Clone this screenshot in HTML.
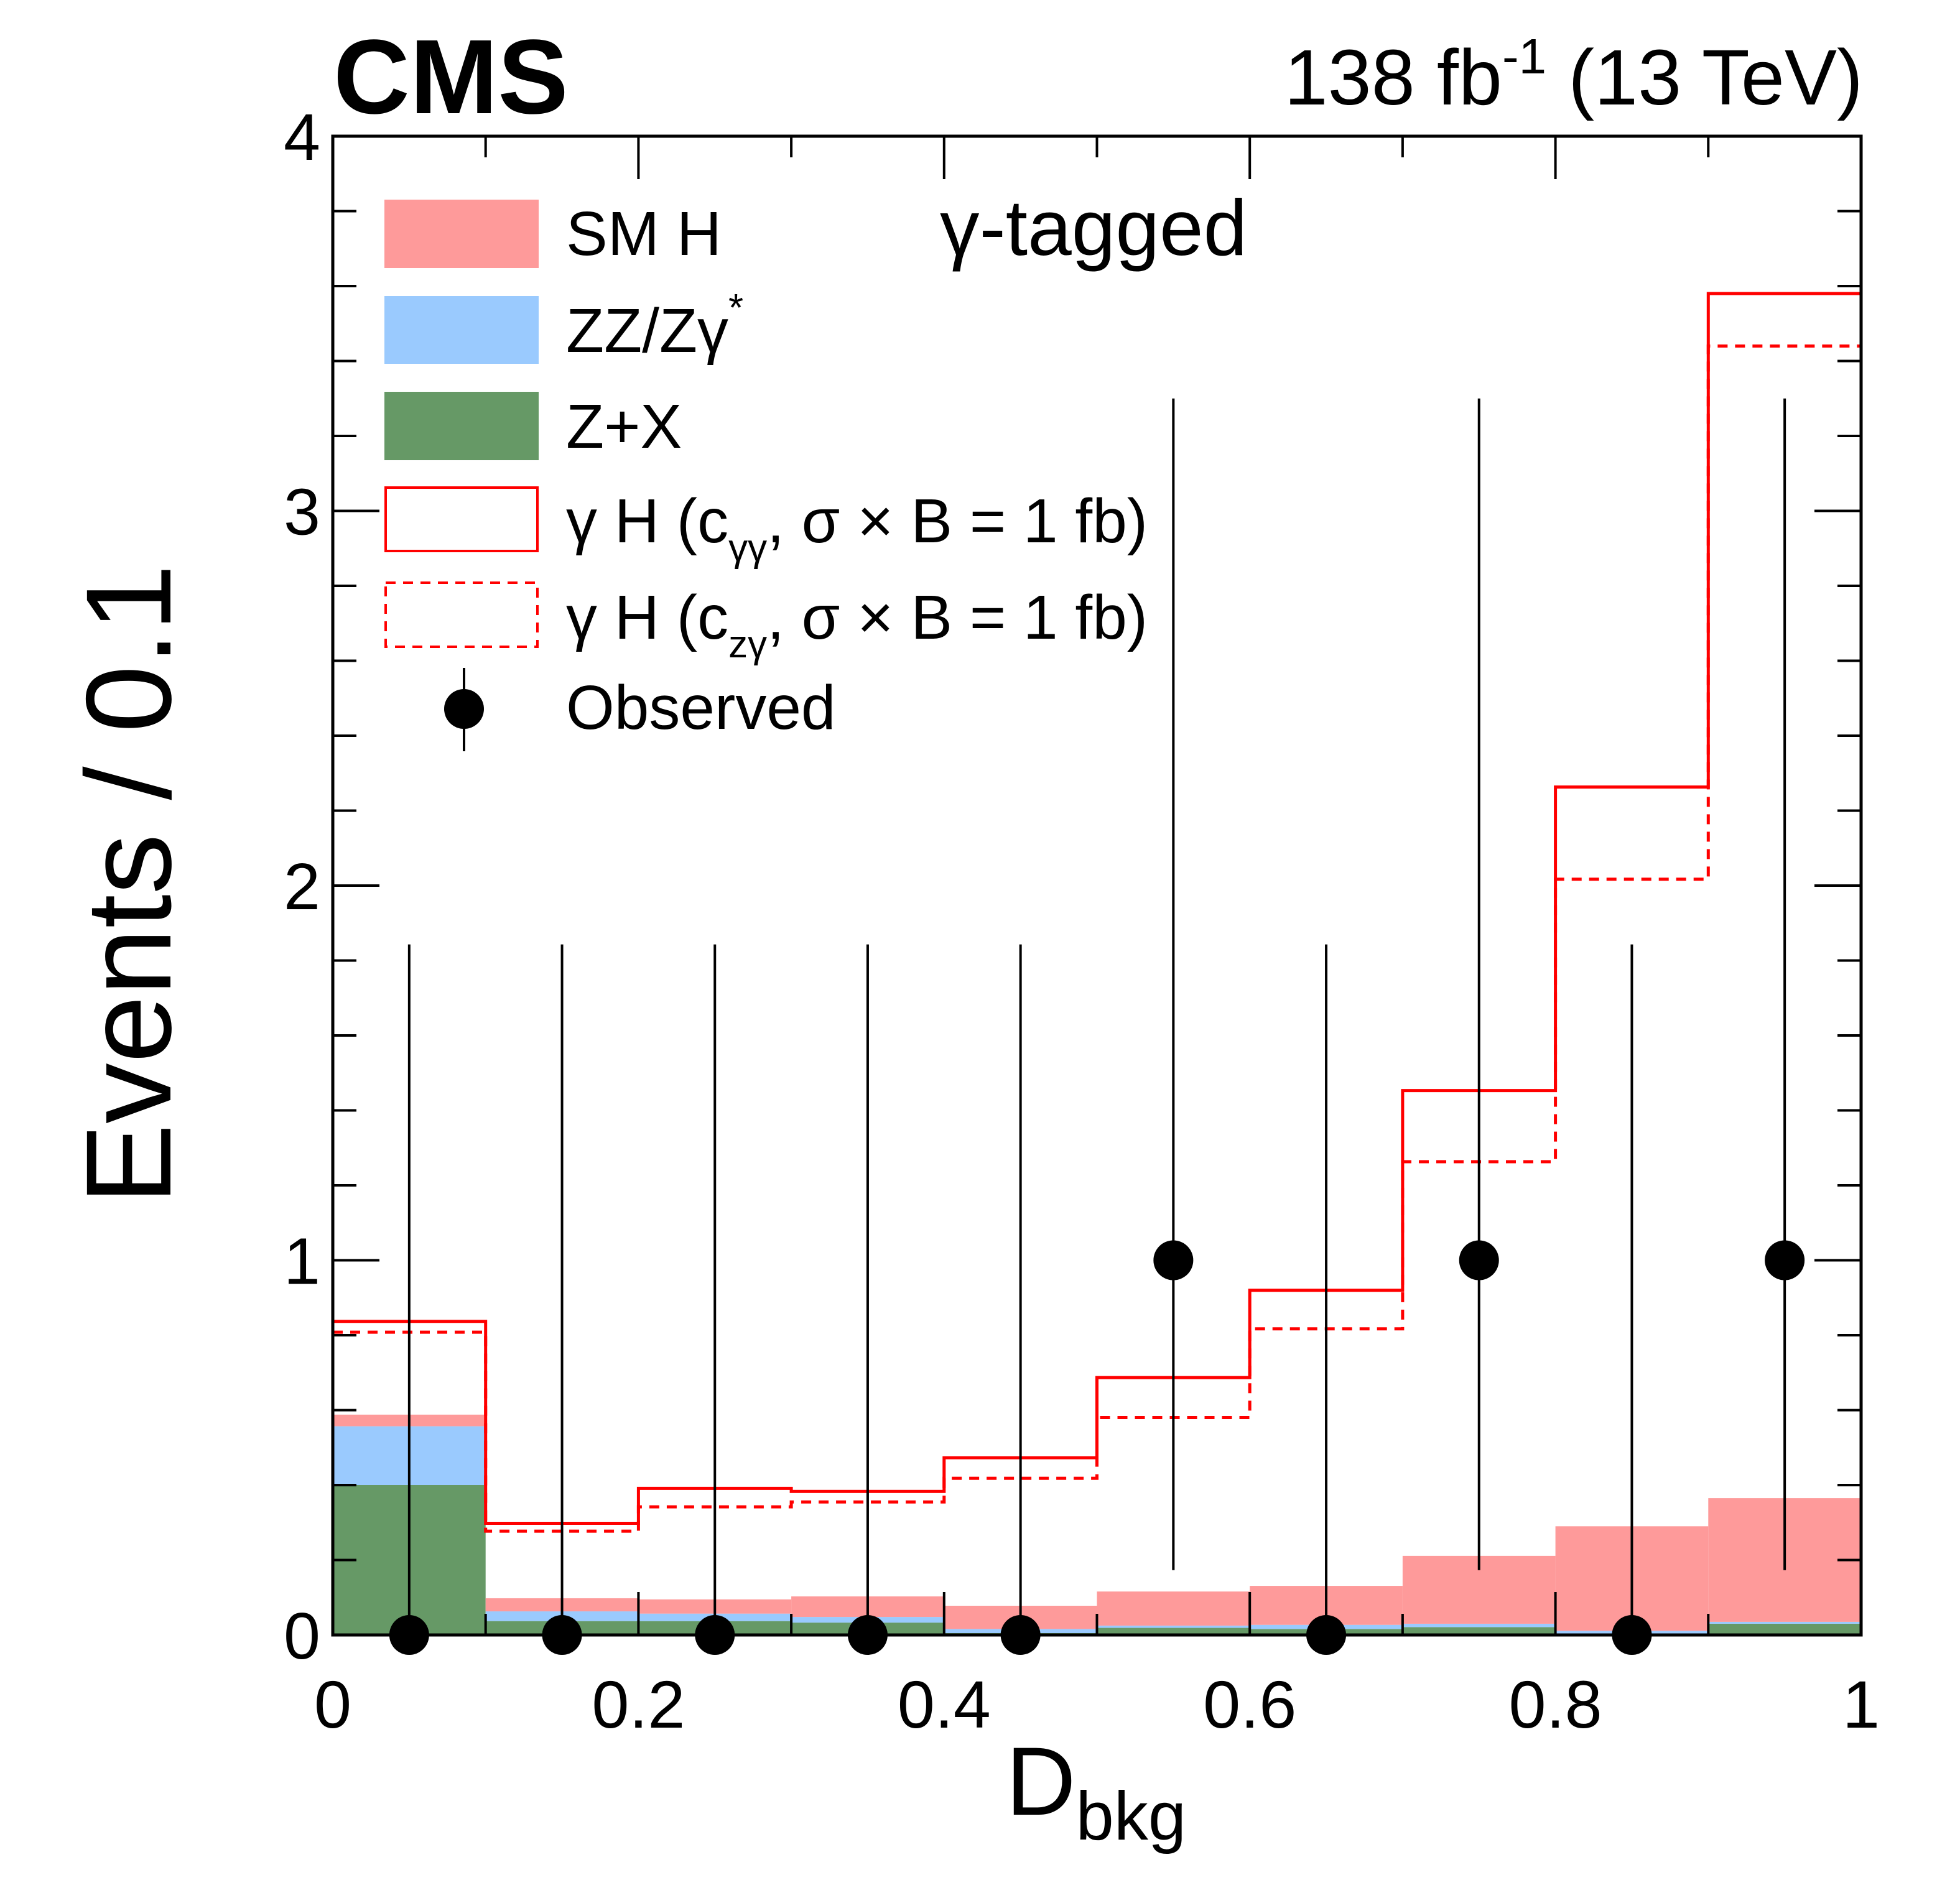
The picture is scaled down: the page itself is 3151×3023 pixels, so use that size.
<!DOCTYPE html>
<html><head><meta charset="utf-8"><style>
html,body{margin:0;padding:0;background:#fff;}
svg{display:block;font-family:"Liberation Sans",sans-serif;}
</style></head><body>
<svg id="chart" width="3151" height="3023" viewBox="0 0 3151 3023" xmlns="http://www.w3.org/2000/svg">
<g id="fills"></g>
<g id="sig"></g>
<g id="obs"></g>
<g id="axes"></g>
<text x="536" y="182" font-size="170" font-weight="bold">CMS</text>
<text x="2995" y="168" font-size="126" text-anchor="end">138 fb<tspan dy="-50" font-size="80">-1</tspan><tspan dy="50"> (13 TeV)</tspan></text>
<text x="1511" y="410" font-size="127">γ-tagged</text>
<text transform="translate(274,1422) rotate(-90)" font-size="195" text-anchor="middle">Events / 0.1</text>
<text x="1617" y="2918" font-size="156">D<tspan dy="40" font-size="110">bkg</tspan></text>
<g font-size="100">
 <rect x="618" y="321" width="248" height="110" fill="#fe9a9a"/>
 <text x="910" y="410">SM H</text>
 <rect x="618" y="476" width="248" height="109" fill="#9acafe"/>
 <text x="910" y="566">ZZ/Zγ<tspan dy="-50" font-size="62">*</tspan></text>
 <rect x="618" y="630" width="248" height="110" fill="#669966"/>
 <text x="910" y="720">Z+X</text>
 <rect x="620" y="784" width="244" height="102" fill="none" stroke="#ff0000" stroke-width="4"/>
 <text x="910" y="872">γ H (c<tspan dy="30" font-size="62">γγ</tspan><tspan dy="-30">, σ × B = 1 fb)</tspan></text>
 <rect x="620" y="937" width="244" height="103" fill="none" stroke="#ff0000" stroke-width="4" stroke-dasharray="16,12"/>
 <text x="910" y="1027">γ H (c<tspan dy="30" font-size="62">zγ</tspan><tspan dy="-30">, σ × B = 1 fb)</tspan></text>
 <line x1="746" y1="1074" x2="746" y2="1208" stroke="#000" stroke-width="4"/>
 <circle cx="746" cy="1140" r="32" fill="#000"/>
 <text x="910" y="1172">Observed</text>
</g>
</svg>
<script>
const binEdges = [0,0.1,0.2,0.3,0.4,0.5,0.6,0.7,0.8,0.9,1.0];
const zxVals = [0.400,0.037,0.037,0.033,0.005,0.019,0.016,0.021,0.004,0.030];
const zzVals = [0.157,0.026,0.020,0.015,0.011,0.006,0.011,0.009,0.007,0.005];
const smhVals = [0.031,0.035,0.038,0.055,0.062,0.091,0.104,0.181,0.279,0.330];
const ghCggVals = [0.837,0.298,0.391,0.383,0.473,0.687,0.920,1.453,2.263,3.580];
const ghCzgVals = [0.808,0.277,0.342,0.355,0.418,0.580,0.817,1.263,2.017,3.440];
const obsVals = [0,0,0,0,0,1,0,1,0,1];
const obsErrLo = [0,0,0,0,0,0.827,0,0.827,0,0.827];
const obsErrHi = [1.843,1.843,1.843,1.843,1.843,2.300,1.843,2.300,1.843,2.300];
const xTickLabels = ["0","0.2","0.4","0.6","0.8","1"];
const yTickLabels = ["0","1","2","3","4"];

const NS="http://www.w3.org/2000/svg";
const X0=535,X1=2992,Y0=2629,Y1=219,XMIN=0,XMAX=1,YMIN=0,YMAX=4;
const sx=v=>X0+(v-XMIN)/(XMAX-XMIN)*(X1-X0);
const sy=v=>Y0-(v-YMIN)/(YMAX-YMIN)*(Y0-Y1);
function mk(tag,attrs,parent){const e=document.createElementNS(NS,tag);for(const k in attrs)e.setAttribute(k,attrs[k]);parent.appendChild(e);return e;}

const fills=document.getElementById('fills');
for(let i=0;i<binEdges.length-1;i++){
  const xa=sx(binEdges[i]),xb=sx(binEdges[i+1]);
  let base=0;
  const layers=[[zxVals[i],'#669966','zx'],[zzVals[i],'#9acafe','zz'],[smhVals[i],'#fe9a9a','smh']];
  for(const [v,c,n] of layers){
    const r=mk('rect',{x:xa,y:sy(base+v),width:xb-xa,height:sy(base)-sy(base+v),fill:c},fills);
    
    
    base+=v;
  }
}
const sig=document.getElementById('sig');
function step(vals,dash,name){
  let d='M'+sx(binEdges[0])+','+sy(vals[0]);
  for(let i=0;i<vals.length;i++){
    d+=' L'+sx(binEdges[i+1])+','+sy(vals[i]);
    if(i+1<vals.length) d+=' L'+sx(binEdges[i+1])+','+sy(vals[i+1]);
  }
  const p=mk('path',{d:d,fill:'none',stroke:'#ff0000','stroke-width':5},sig);
  if(dash)p.setAttribute('stroke-dasharray','16,12');
  
  
}
step(ghCggVals,false,'line-gh-cgg');
step(ghCzgVals,true,'line-gh-czg');

const obs=document.getElementById('obs');
for(let i=0;i<obsVals.length;i++){
  const cx=sx((binEdges[i]+binEdges[i+1])/2);
  const l=mk('line',{x1:cx,x2:cx,y1:sy(obsVals[i]-obsErrLo[i]),y2:sy(obsVals[i]+obsErrHi[i]),stroke:'#000','stroke-width':4},obs);
  
  
  const c=mk('circle',{cx:cx,cy:sy(obsVals[i]),r:32,fill:'#000'},obs);
  
  
}

const axes=document.getElementById('axes');
const frame=mk('rect',{x:X0,y:Y1,width:X1-X0,height:Y0-Y1,fill:'none',stroke:'#000','stroke-width':5},axes);


for(let k=0;k<=10;k++){
  const v=k/10,x=sx(v),len=(k%2===0)?69:34;
  mk('line',{x1:x,x2:x,y1:Y0,y2:Y0-len,stroke:'#000','stroke-width':4},axes);
  mk('line',{x1:x,x2:x,y1:Y1,y2:Y1+len,stroke:'#000','stroke-width':4},axes);
}
xTickLabels.forEach((t,i)=>{
  const tx=mk('text',{x:sx(i*0.2),y:2778,'font-size':108,'text-anchor':'middle'},axes);
  tx.textContent=t;
  
  
});
for(let k=0;k<=20;k++){
  const v=k*0.2,y=sy(v),len=(k%5===0)?75:38;
  mk('line',{x1:X0,x2:X0+len,y1:y,y2:y,stroke:'#000','stroke-width':4},axes);
  mk('line',{x1:X1,x2:X1-len,y1:y,y2:y,stroke:'#000','stroke-width':4},axes);
}
yTickLabels.forEach((t,i)=>{
  const ty=mk('text',{x:515,y:sy(i)+38,'font-size':106,'text-anchor':'end'},axes);
  ty.textContent=t;
  
  
});
</script>
</body></html>
